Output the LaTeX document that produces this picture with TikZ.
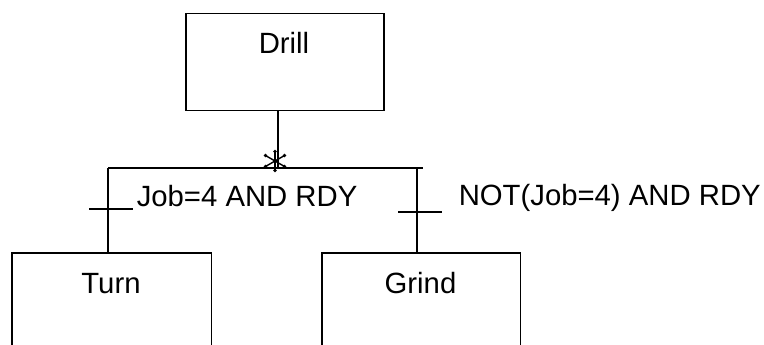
\documentclass[tikz,border=0pt]{standalone}
\usepackage{fontspec}
\setmainfont{Liberation Sans}
\usetikzlibrary{calc}
\begin{document}
\begin{tikzpicture}[x=1pt,y=-1pt,line width=1.5pt,
  lbl/.style={inner sep=0pt,font=\fontsize{29.3}{35}\selectfont},
  stepbox/.style={draw=none,inner sep=0pt,anchor=north west},
  tick/.style={line width=1.5pt}]
\useasboundingbox (0,0) rectangle (764,345);
% steps
\node[stepbox,draw,minimum width=198pt,minimum height=97pt] (drill) at (185,13) {};
\node[stepbox,minimum width=198pt,minimum height=92pt] (turn) at (12,253) {};
\node[stepbox,minimum width=197pt,minimum height=92pt] (grind) at (322,253) {};
\draw (turn.south west) -- (turn.north west) -- (turn.north east) -- (turn.south east);
\draw (grind.south west) -- (grind.north west) -- (grind.north east) -- (grind.south east);
% labels
\node[lbl,anchor=base] (drillt) at (284,54) {Drill};
\node[lbl,anchor=base] (turnt) at (111,293) {Turn};
\node[lbl,anchor=base] (grindt) at (420.5,293) {Grind};
% branch
\coordinate (split) at (278,168);
\coordinate (L) at (108,168);
\coordinate (R) at (417,168);
\coordinate (Rend) at (423,168);
\draw (drill.south -| split) -- (split);
\draw (L) -- (Rend);
\draw (L) -- (L |- turn.north);
\draw (R) -- (R |- grind.north);
% transitions
\coordinate (tl) at (108,209);
\coordinate (tr) at (417,212);
\draw[tick] ($(tl)+(-19,0)$) -- ($(tl)+(25,0)$);
\draw[tick] ($(tr)+(-19,0)$) -- ($(tr)+(25,0)$);
\node[lbl,anchor=base west] (c1) at (136,206) {Job=4 AND RDY};
\node[lbl,anchor=base west] (c2) at (458,205) {NOT(Job=4) AND RDY};
% asterisk (divergence marker)
\coordinate (ast) at (275,161);
\foreach \a/\r in {90/9.5,30/11,150/11} {
  \draw[line width=1.4pt] ($(ast)+(\a:\r)$) -- ($(ast)+(\a+180:\r)$);
  \fill ($(ast)+(\a:\r)$) circle (1.8pt);
  \fill ($(ast)+(\a+180:\r)$) circle (1.8pt);
}
\end{tikzpicture}
\end{document}
